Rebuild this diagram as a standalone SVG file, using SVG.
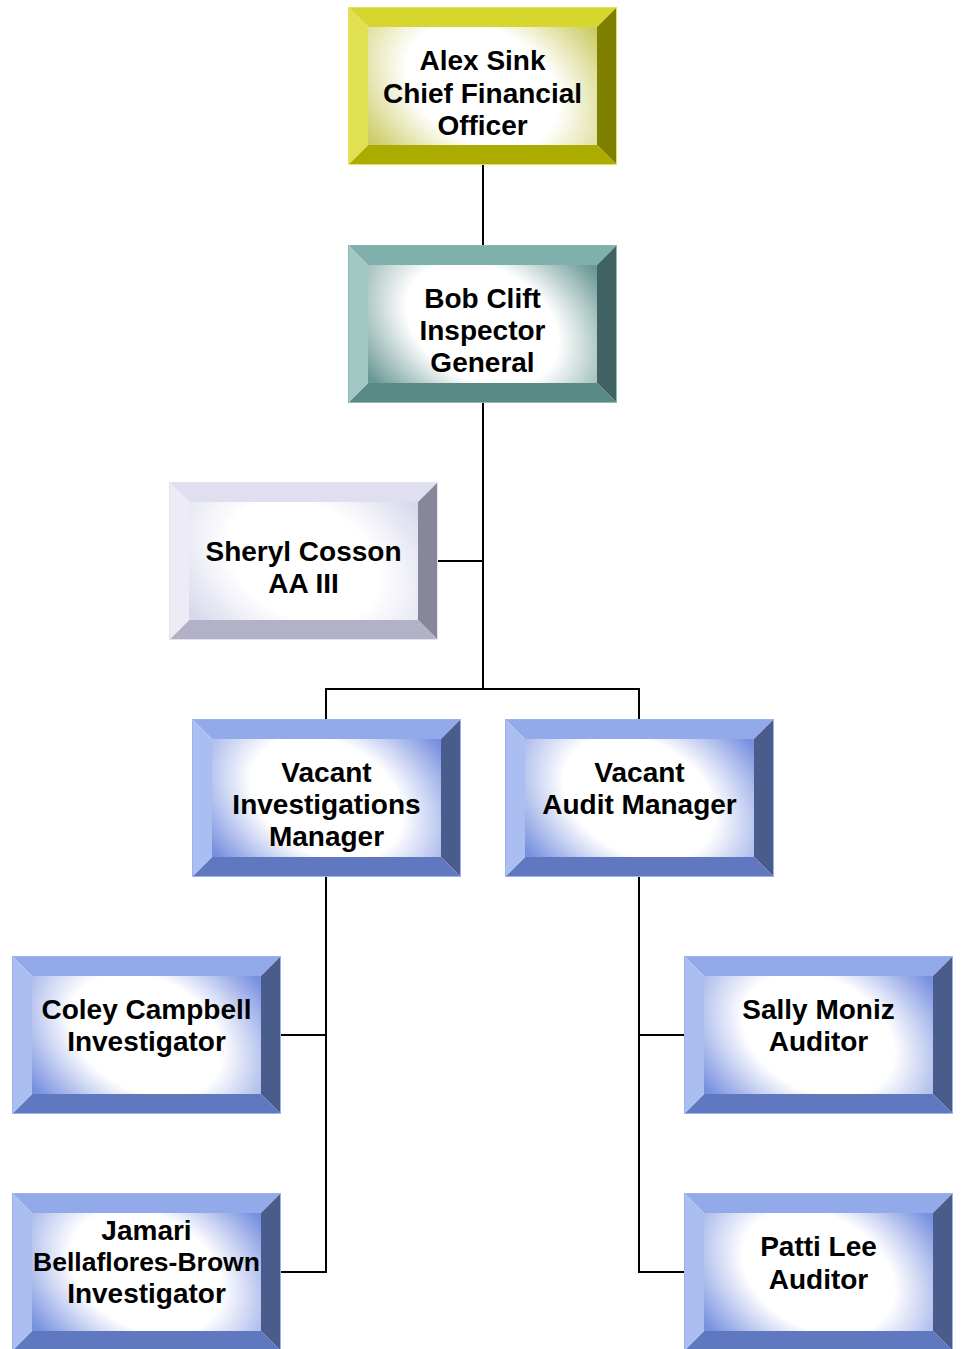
<svg xmlns="http://www.w3.org/2000/svg" width="962" height="1349" viewBox="0 0 962 1349">
<style>
text{font-family:"Liberation Sans",Arial,sans-serif;font-weight:bold;font-size:28px;fill:#000;text-anchor:middle}
.conn line{stroke:#000;stroke-width:2;fill:none}
.y .t{fill:#d6d62e}.y .l{fill:#e0e050}.y .r{fill:#808000}.y .b{fill:#abab00}.y .o{stroke:#e4e45a}
.g .t{fill:#80b0ac}.g .l{fill:#a2c8c4}.g .r{fill:#406262}.g .b{fill:#5a8a86}.g .o{stroke:#8cbab6}
.v .t{fill:#e0dff0}.v .l{fill:#ecebf6}.v .r{fill:#87879a}.v .b{fill:#b2b1c8}.v .o{stroke:#e4e3f2}
.u .t{fill:#92aaea}.u .l{fill:#aabef2}.u .r{fill:#4a5c8c}.u .b{fill:#6078c0}.u .o{stroke:#9cb2ee}
.o{fill:none;stroke-width:1}
</style>
<defs>
<radialGradient id="gy" gradientUnits="userSpaceOnUse" cx="0" cy="0" r="1" gradientTransform="translate(134.5,79) rotate(27) scale(160,112)"><stop offset="0.5" stop-color="#fff"/><stop offset="1" stop-color="#cccc66"/></radialGradient>
<radialGradient id="gg" gradientUnits="userSpaceOnUse" cx="0" cy="0" r="1" gradientTransform="translate(134.5,79) rotate(27) scale(160,112)"><stop offset="0.5" stop-color="#fff"/><stop offset="1" stop-color="#6a9894"/></radialGradient>
<radialGradient id="gv" gradientUnits="userSpaceOnUse" cx="0" cy="0" r="1" gradientTransform="translate(134.5,79) rotate(27) scale(160,112)"><stop offset="0.5" stop-color="#fff"/><stop offset="1" stop-color="#d8d8ec"/></radialGradient>
<radialGradient id="gu" gradientUnits="userSpaceOnUse" cx="0" cy="0" r="1" gradientTransform="translate(134.5,79) rotate(27) scale(160,112)"><stop offset="0.5" stop-color="#fff"/><stop offset="1" stop-color="#7890e0"/></radialGradient>
</defs>
<g class="conn">
<line x1="483" y1="165" x2="483" y2="245"/>
<line x1="483" y1="403" x2="483" y2="689"/>
<line x1="437" y1="561" x2="483" y2="561"/>
<line x1="325" y1="689" x2="640" y2="689"/>
<line x1="326" y1="688" x2="326" y2="719"/>
<line x1="639" y1="688" x2="639" y2="719"/>
<line x1="326" y1="877" x2="326" y2="1273"/>
<line x1="280" y1="1035" x2="327" y2="1035"/>
<line x1="280" y1="1272" x2="327" y2="1272"/>
<line x1="639" y1="877" x2="639" y2="1273"/>
<line x1="638" y1="1035" x2="684" y2="1035"/>
<line x1="638" y1="1272" x2="684" y2="1272"/>
</g>
<g id="n-sink" class="y" transform="translate(348,7)">
<polygon class="t" points="0,0 269,0 249,20 20,20"/><polygon class="r" points="269,0 269,158 249,138 249,20"/><polygon class="b" points="0,158 269,158 249,138 20,138"/><polygon class="l" points="0,0 20,20 20,138 0,158"/><rect class="o" x="0.5" y="0.5" width="268" height="157"/>
<rect x="20" y="20" width="229" height="118" fill="url(#gy)"/>
<text x="134.5" y="63">Alex Sink</text><text x="134.5" y="96">Chief Financial</text><text x="134.5" y="128">Officer</text>
</g>
<g id="n-clift" class="g" transform="translate(348,245)">
<polygon class="t" points="0,0 269,0 249,20 20,20"/><polygon class="r" points="269,0 269,158 249,138 249,20"/><polygon class="b" points="0,158 269,158 249,138 20,138"/><polygon class="l" points="0,0 20,20 20,138 0,158"/><rect class="o" x="0.5" y="0.5" width="268" height="157"/>
<rect x="20" y="20" width="229" height="118" fill="url(#gg)"/>
<text x="134.5" y="63">Bob Clift</text><text x="134.5" y="95">Inspector</text><text x="134.5" y="127">General</text>
</g>
<g id="n-cosson" class="v" transform="translate(169,482)">
<polygon class="t" points="0,0 269,0 249,20 20,20"/><polygon class="r" points="269,0 269,158 249,138 249,20"/><polygon class="b" points="0,158 269,158 249,138 20,138"/><polygon class="l" points="0,0 20,20 20,138 0,158"/><rect class="o" x="0.5" y="0.5" width="268" height="157"/>
<rect x="20" y="20" width="229" height="118" fill="url(#gv)"/>
<text x="134.5" y="79">Sheryl Cosson</text><text x="134.5" y="111">AA III</text>
</g>
<g id="n-invmgr" class="u" transform="translate(192,719)">
<polygon class="t" points="0,0 269,0 249,20 20,20"/><polygon class="r" points="269,0 269,158 249,138 249,20"/><polygon class="b" points="0,158 269,158 249,138 20,138"/><polygon class="l" points="0,0 20,20 20,138 0,158"/><rect class="o" x="0.5" y="0.5" width="268" height="157"/>
<rect x="20" y="20" width="229" height="118" fill="url(#gu)"/>
<text x="134.5" y="63">Vacant</text><text x="134.5" y="95">Investigations</text><text x="134.5" y="127">Manager</text>
</g>
<g id="n-audmgr" class="u" transform="translate(505,719)">
<polygon class="t" points="0,0 269,0 249,20 20,20"/><polygon class="r" points="269,0 269,158 249,138 249,20"/><polygon class="b" points="0,158 269,158 249,138 20,138"/><polygon class="l" points="0,0 20,20 20,138 0,158"/><rect class="o" x="0.5" y="0.5" width="268" height="157"/>
<rect x="20" y="20" width="229" height="118" fill="url(#gu)"/>
<text x="134.5" y="63">Vacant</text><text x="134.5" y="95">Audit Manager</text>
</g>
<g id="n-campbell" class="u" transform="translate(12,956)">
<polygon class="t" points="0,0 269,0 249,20 20,20"/><polygon class="r" points="269,0 269,158 249,138 249,20"/><polygon class="b" points="0,158 269,158 249,138 20,138"/><polygon class="l" points="0,0 20,20 20,138 0,158"/><rect class="o" x="0.5" y="0.5" width="268" height="157"/>
<rect x="20" y="20" width="229" height="118" fill="url(#gu)"/>
<text x="134.5" y="63">Coley Campbell</text><text x="134.5" y="95">Investigator</text>
</g>
<g id="n-moniz" class="u" transform="translate(684,956)">
<polygon class="t" points="0,0 269,0 249,20 20,20"/><polygon class="r" points="269,0 269,158 249,138 249,20"/><polygon class="b" points="0,158 269,158 249,138 20,138"/><polygon class="l" points="0,0 20,20 20,138 0,158"/><rect class="o" x="0.5" y="0.5" width="268" height="157"/>
<rect x="20" y="20" width="229" height="118" fill="url(#gu)"/>
<text x="134.5" y="63">Sally Moniz</text><text x="134.5" y="95">Auditor</text>
</g>
<g id="n-bellaflores" class="u" transform="translate(12,1193)">
<polygon class="t" points="0,0 269,0 249,20 20,20"/><polygon class="r" points="269,0 269,158 249,138 249,20"/><polygon class="b" points="0,158 269,158 249,138 20,138"/><polygon class="l" points="0,0 20,20 20,138 0,158"/><rect class="o" x="0.5" y="0.5" width="268" height="157"/>
<rect x="20" y="20" width="229" height="118" fill="url(#gu)"/>
<text x="134.5" y="47">Jamari</text><text x="134.5" y="78" style="font-size:26.5px">Bellaflores-Brown</text><text x="134.5" y="110">Investigator</text>
</g>
<g id="n-lee" class="u" transform="translate(684,1193)">
<polygon class="t" points="0,0 269,0 249,20 20,20"/><polygon class="r" points="269,0 269,158 249,138 249,20"/><polygon class="b" points="0,158 269,158 249,138 20,138"/><polygon class="l" points="0,0 20,20 20,138 0,158"/><rect class="o" x="0.5" y="0.5" width="268" height="157"/>
<rect x="20" y="20" width="229" height="118" fill="url(#gu)"/>
<text x="134.5" y="63">Patti Lee</text><text x="134.5" y="96">Auditor</text>
</g>
</svg>
